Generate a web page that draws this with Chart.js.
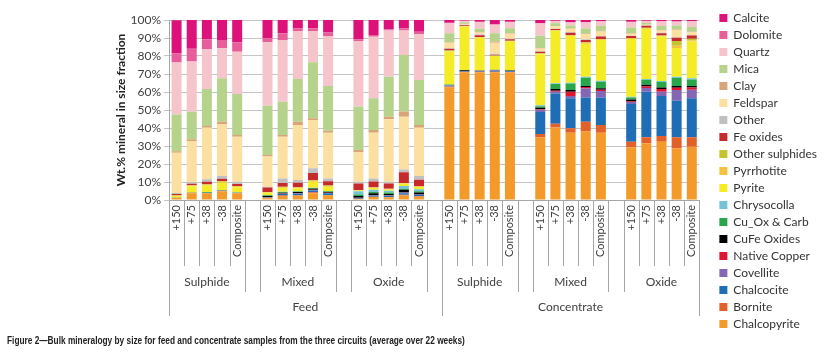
<!DOCTYPE html>
<html>
<head>
<meta charset="utf-8">
<script src="https://cdn.jsdelivr.net/npm/chart.js@4.4.0/dist/chart.umd.min.js"></script>
<style>
  html, body { margin: 0; padding: 0; background: #fff; }
  #wrap { position: relative; width: 824px; height: 353px; }
  #caption {
    position: absolute; left: 7px; top: 334px;
    font: bold 11px "Liberation Sans", Arial, sans-serif;
    color: #222; white-space: nowrap;
    transform: scaleX(0.755); transform-origin: 0 0;
  }
</style>
</head>
<body>
<div id="wrap">
  <canvas id="chart" width="824" height="353"></canvas>
  <div id="caption">Figure 2—Bulk mineralogy by size for feed and concentrate samples from the three circuits (average over 22 weeks)</div>
</div>
<script>
Chart.defaults.font.family = "Lato, 'Open Sans', sans-serif";
Chart.defaults.color = "#404040";

const sizes = ["+150", "+75", "+38", "-38", "Composite"];
const circuits = ["Sulphide", "Mixed", "Oxide"];
const streams = ["Feed", "Concentrate"];

// 30 bars each: Feed S, M, O then Concentrate S, M, O (5 sizes per circuit)
const chalcopyrite = [1.2, 3.8, 3.6, 4.8, 3.6, 1.0, 2.2, 2.4, 3.8, 2.5, 0.6, 1.6, 1.5, 2.5, 1.8,
  62.5, 71.0, 71.0, 71.0, 70.8, 34.8, 40.3, 37.4, 38.0, 37.4, 29.1, 31.5, 32.4, 28.7, 29.6];
const bornite = [0.1, 0.2, 0.3, 0.3, 0.3, 0.2, 0.3, 0.3, 0.5, 0.3, 0.1, 0.2, 0.2, 0.4, 0.3,
  0.5, 0.3, 0.3, 0.3, 0.3, 1.9, 2.0, 2.4, 5.5, 4.3, 3.3, 3.3, 3.2, 6.1, 5.2];
const chalcocite = [0, 0, 0.1, 0.2, 0.1, 0.3, 0.8, 0.9, 1.0, 0.9, 0.4, 0.7, 0.6, 0.9, 0.7,
  0.5, 0.3, 0.3, 0.4, 0.4, 12.2, 16.8, 16.7, 13.5, 15.3, 20.9, 25.4, 22.2, 20.4, 21.7];
const covellite = [0, 0, 0, 0, 0, 0.1, 0.2, 0.2, 0.3, 0.2, 0.1, 0.2, 0.2, 0.3, 0.2,
  0.2, 0.1, 0.2, 0.4, 0.2, 1.2, 1.0, 1.3, 5.0, 3.6, 1.2, 2.0, 2.4, 5.9, 4.7];
const nativeCopper = [0, 0, 0, 0, 0, 0.1, 0.1, 0.1, 0.1, 0.1, 0.1, 0.1, 0.1, 0.1, 0.1,
  0, 0, 0, 0, 0, 0.3, 0.6, 2.4, 0.8, 0.7, 0.2, 0.8, 1.4, 1.2, 1.3];
const cufeOxides = [0, 0, 0, 0, 0, 0.5, 0.4, 0.5, 0.5, 0.5, 0.9, 0.9, 0.8, 1.5, 1.0,
  0.1, 0.4, 0.1, 0.1, 0.2, 0.8, 0.9, 0.9, 0.6, 0.8, 1.1, 1.0, 0.9, 1.0, 0.8];
const cuOxCarb = [0.1, 0.1, 0.4, 0.3, 0.2, 0.4, 0.4, 0.3, 0.4, 0.3, 0.8, 0.8, 0.8, 0.6, 0.7,
  0.3, 0.1, 0.1, 0.1, 0.1, 0.9, 2.8, 3.6, 4.5, 3.6, 1.2, 2.6, 3.0, 4.5, 3.7];
const chrysocolla = [0, 0, 0, 0, 0, 0.2, 0.2, 0.2, 0.2, 0.2, 1.8, 1.2, 0.9, 1.5, 1.2,
  0.1, 0, 0, 0, 0, 0.5, 0.4, 0.5, 0.6, 0.6, 0.4, 0.6, 0.6, 0.7, 0.6];
const pyrite = [0.8, 3.6, 3.6, 4.0, 2.9, 1.2, 2.0, 1.6, 3.3, 2.3, 0.5, 1.0, 0.8, 1.2, 1.2,
  18.3, 24.2, 18.1, 7.7, 16.2, 28.4, 29.2, 25.9, 18.3, 22.6, 32.1, 28.0, 24.7, 15.9, 20.4];
const pyrrhotite = [0.3, 0.3, 0.5, 0.6, 0.5, 0.3, 0.5, 0.4, 0.6, 0.5, 0.2, 0.3, 0.3, 0.3, 0.3,
  0.3, 0.2, 0.3, 0.2, 0.2, 0.3, 0.3, 0.4, 0.6, 0.4, 0.3, 0.3, 0.4, 1.3, 0.6];
const otherSulphides = [0.1, 0.2, 0.2, 0.3, 0.2, 0.2, 0.2, 0.2, 0.3, 0.2, 0.1, 0.1, 0.1, 0.2, 0.1,
  0.2, 0.1, 0.2, 0.1, 0.1, 0.2, 0.2, 0.2, 0.3, 0.2, 0.2, 0.2, 0.2, 2.6, 1.0];
const feOxides = [0.7, 0.8, 1.5, 1.3, 1.1, 2.4, 2.2, 2.5, 4.0, 2.4, 3.5, 3.2, 2.8, 5.9, 3.7,
  1.0, 0.4, 0.9, 0.4, 0.8, 0.9, 0.5, 1.2, 1.2, 1.3, 1.1, 1.1, 1.2, 1.8, 1.8];
const other = [0.6, 0.8, 1.3, 1.5, 1.2, 0.5, 2.5, 1.5, 2.6, 1.6, 1.1, 1.7, 1.1, 1.6, 2.0,
  0.3, 0.2, 0.5, 0.5, 0.3, 0.2, 0.2, 0.3, 0.4, 0.3, 0.2, 0.2, 0.3, 0.3, 0.3];
const feldspar = [22.3, 23.0, 28.7, 28.9, 25.1, 16.7, 23.2, 30.6, 26.8, 25.4, 16.3, 25.4, 34.6, 29.3, 26.9,
  3.0, 0.5, 1.1, 6.1, 2.8, 1.6, 1.3, 1.9, 2.8, 2.5, 1.0, 0.3, 1.2, 4.2, 1.5];
const clay = [0.9, 0.9, 0.9, 1.3, 0.9, 0.9, 0.9, 1.8, 1.0, 1.1, 1.3, 1.5, 1.5, 2.8, 1.5,
  0.3, 0.1, 0.2, 0.7, 0.2, 0.3, 0.2, 0.3, 0.4, 0.4, 0.3, 0.1, 0.3, 0.4, 0.3];
const mica = [20.4, 15.3, 20.6, 24.1, 22.8, 27.4, 18.5, 23.7, 31.1, 24.8, 24.1, 17.6, 22.2, 31.5, 25.0,
  5.0, 0.8, 1.8, 4.6, 2.8, 6.7, 1.5, 1.5, 2.8, 2.8, 3.2, 1.0, 2.2, 2.0, 2.6];
const quartz = [28.9, 27.9, 22.0, 16.7, 23.5, 35.2, 34.3, 26.7, 17.4, 27.8, 36.5, 34.2, 25.6, 13.5, 25.5,
  5.6, 0.8, 3.6, 4.8, 3.3, 6.9, 1.2, 1.7, 3.3, 2.3, 2.9, 1.0, 2.5, 2.0, 3.0];
const dolomite = [5.0, 7.1, 5.6, 4.6, 5.2, 2.2, 3.7, 1.5, 1.5, 1.9, 0.9, 1.0, 0.7, 1.3, 1.3,
  0.3, 0.2, 0.3, 0.3, 0.3, 0.3, 0.2, 0.3, 0.3, 0.2, 0.3, 0.2, 0.3, 0.3, 0.3];
const calcite = [18.5, 16.0, 10.7, 11.1, 12.4, 10.2, 7.4, 4.6, 4.6, 7.0, 10.7, 8.3, 5.2, 4.6, 6.5,
  1.5, 0.3, 1.0, 2.3, 1.0, 1.6, 0.4, 1.1, 1.1, 0.7, 1.0, 0.4, 0.6, 0.7, 0.6];

// stacking order, bottom first
const minerals = [
  ["Chalcopyrite", chalcopyrite, "#f39a2b"],
  ["Bornite", bornite, "#e2612b"],
  ["Chalcocite", chalcocite, "#1f6db5"],
  ["Covellite", covellite, "#8466b5"],
  ["Native Copper", nativeCopper, "#dd1632"],
  ["CuFe Oxides", cufeOxides, "#000000"],
  ["Cu_Ox & Carb", cuOxCarb, "#2aa64a"],
  ["Chrysocolla", chrysocolla, "#74c4d8"],
  ["Pyrite", pyrite, "#f4ec26"],
  ["Pyrrhotite", pyrrhotite, "#f5c13f"],
  ["Other sulphides", otherSulphides, "#c4c52e"],
  ["Fe oxides", feOxides, "#c62a2b"],
  ["Other", other, "#c0c0c0"],
  ["Feldspar", feldspar, "#fce0a1"],
  ["Clay", clay, "#d9a477"],
  ["Mica", mica, "#b6d38b"],
  ["Quartz", quartz, "#f5c5cb"],
  ["Dolomite", dolomite, "#e75e9b"],
  ["Calcite", calcite, "#dc127a"],
];

// category index including one blank slot between circuit groups
function catIndex(s, c, k) {
  return s * 18 + c * 6 + k;
}

const labels = [];
for (let i = 0; i < 35; i++) labels.push("");
streams.forEach((st, s) => circuits.forEach((ci, c) => sizes.forEach((sz, k) => {
  labels[catIndex(s, c, k)] = sz;
})));

function spread(values) {
  const out = new Array(35).fill(null);
  let n = 0;
  for (let s = 0; s < 2; s++)
    for (let c = 0; c < 3; c++)
      for (let k = 0; k < 5; k++) out[catIndex(s, c, k)] = values[n++];
  return out;
}

const lineColor = "#a6a6a6";

const categoryAxisLabels = {
  id: "categoryAxisLabels",
  afterDraw(chart) {
    const ctx = chart.ctx;
    const x = chart.scales.x;
    const top = x.top;
    const half = (x.getPixelForValue(1) - x.getPixelForValue(0)) / 2;
    const px = (v) => Math.round(v) + 0.5;
    const vline = (xx, len) => {
      ctx.beginPath();
      ctx.moveTo(px(xx), top);
      ctx.lineTo(px(xx), top + len);
      ctx.stroke();
    };

    ctx.save();
    ctx.strokeStyle = lineColor;
    ctx.lineWidth = 1;
    ctx.fillStyle = "#404040";

    streams.forEach((st, s) => {
      circuits.forEach((ci, c) => {
        const first = x.getPixelForValue(catIndex(s, c, 0));
        const last = x.getPixelForValue(catIndex(s, c, 4));
        sizes.forEach((sz, k) => {
          const cx = x.getPixelForValue(catIndex(s, c, k));
          if (k > 0) vline(cx - half, 66);
          ctx.save();
          ctx.translate(cx, top + 5);
          ctx.rotate(-Math.PI / 2);
          ctx.font = "11px Lato, sans-serif";
          ctx.textAlign = "right";
          ctx.textBaseline = "middle";
          ctx.fillText(sz, 0, 0);
          ctx.restore();
        });
        vline(first - half, 92);
        vline(last + half, 92);
        ctx.font = "12px Lato, sans-serif";
        ctx.textAlign = "center";
        ctx.textBaseline = "middle";
        ctx.fillText(ci, (first + last) / 2, top + 82);
      });
      const left = x.getPixelForValue(catIndex(s, 0, 0)) - half;
      const right = s === 0
        ? x.getPixelForValue(catIndex(1, 0, 0)) - half
        : x.getPixelForValue(catIndex(1, 2, 4)) + half;
      ctx.font = "12px Lato, sans-serif";
      ctx.fillText(st, (left + right) / 2, top + 107);
    });
    vline(x.getPixelForValue(0) - half, 116);
    vline(x.getPixelForValue(catIndex(1, 0, 0)) - half, 116);
    vline(x.getPixelForValue(34) + half, 116);
    ctx.restore();
  },
};

new Chart(document.getElementById("chart"), {
  type: "bar",
  data: {
    labels: labels,
    datasets: minerals.map(([name, values, color]) => ({
      label: name,
      data: spread(values),
      backgroundColor: color,
      borderWidth: 0,
      categoryPercentage: 1,
      barPercentage: 0.66,
    })),
  },
  options: {
    responsive: false,
    animation: false,
    layout: { padding: { left: 110, top: 7, right: -3, bottom: 0 } },
    plugins: {
      tooltip: { enabled: false },
      legend: {
        position: "right",
        align: "start",
        reverse: true,
        labels: {
          boxWidth: 8,
          boxHeight: 8,
          padding: 5,
          color: "#333",
          font: { size: 12 },
        },
      },
    },
    scales: {
      x: {
        stacked: true,
        ticks: { display: false },
        grid: { display: false },
        border: { display: true, color: lineColor },
        afterFit: (scale) => { scale.height = 153; },
      },
      y: {
        stacked: true,
        min: 0,
        max: 100,
        ticks: {
          stepSize: 10,
          padding: 3,
          font: { size: 12 },
          callback: (v) => v + "%",
        },
        grid: { color: "#c4c4c4", tickLength: 5 },
        border: { display: true, color: lineColor },
        title: {
          display: true,
          text: "Wt.% mineral in size fraction",
          color: "#222",
          font: { size: 12, weight: "bold" },
        },
        afterFit: (scale) => {
          scale.width = 59;
          scale.paddingTop = 20;
        },
      },
      // empty spacer between the plot and the legend
      gap: {
        type: "linear",
        position: "right",
        display: true,
        ticks: { display: false },
        grid: { display: false, drawTicks: false },
        border: { display: false },
        afterFit: (scale) => { scale.width = 15; },
      },
    },
  },
  plugins: [categoryAxisLabels],
});
</script>
</body>
</html>
